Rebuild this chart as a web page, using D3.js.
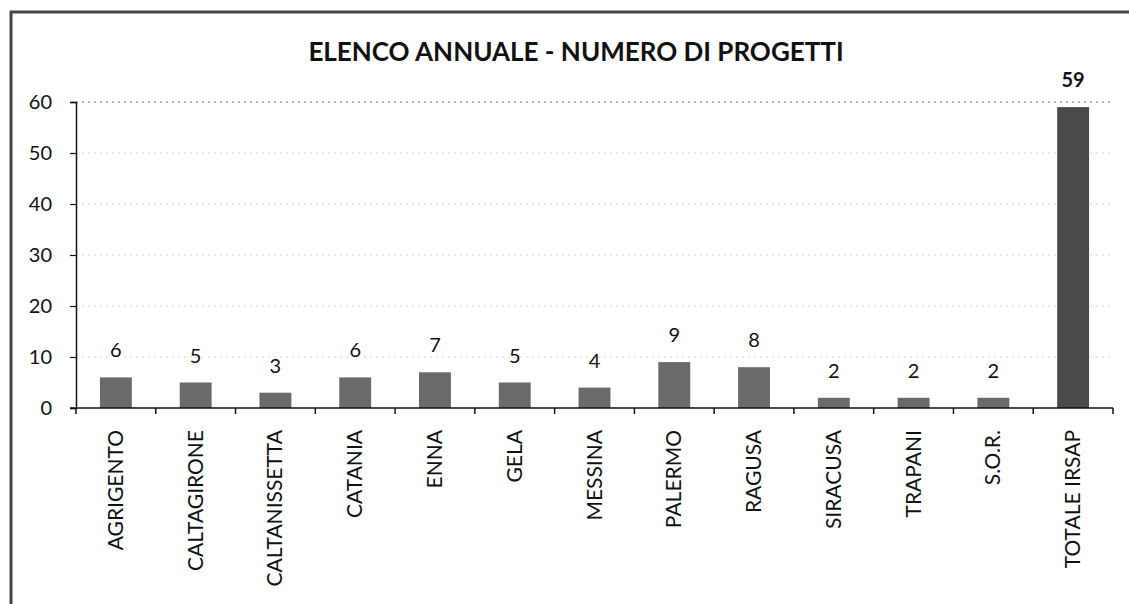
<!DOCTYPE html>
<html><head><meta charset="utf-8">
<script src="https://cdn.jsdelivr.net/npm/d3@7"></script>
<style>body{margin:0;background:#fff}svg{display:block}</style>
</head><body>
<svg id="c" width="1129" height="604"></svg>
<script>
const categories = ["AGRIGENTO","CALTAGIRONE","CALTANISSETTA","CATANIA","ENNA","GELA","MESSINA","PALERMO","RAGUSA","SIRACUSA","TRAPANI","S.O.R.","TOTALE IRSAP"];
const values = [6,5,3,6,7,5,4,9,8,2,2,2,59];
const yTicks = [0,10,20,30,40,50,60];
const title = "ELENCO ANNUALE - NUMERO DI PROGETTI";

const svg = d3.select("#c");
const font = "Lato, 'Open Sans', sans-serif";
const pL = 76, pR = 1113, pT = 102, pB = 408;

// border (top & left)
svg.append("line").attr("x1",10).attr("x2",1129).attr("y1",12).attr("y2",12).attr("stroke","#444").attr("stroke-width",3);
svg.append("line").attr("x1",11).attr("x2",11).attr("y1",11).attr("y2",604).attr("stroke","#444").attr("stroke-width",3);

const x = d3.scaleBand().domain(categories).range([pL,pR]).paddingInner(0.6).paddingOuter(0.3);
const y = d3.scaleLinear().domain([0,60]).range([pB,pT]);

// gridlines
svg.append("g").selectAll("line").data(yTicks.filter(d=>d>0)).join("line")
  .attr("x1",pL).attr("x2",pR).attr("y1",d=>y(d)).attr("y2",d=>y(d))
  .attr("stroke",d=>d===60?"#777":"#d4d4d4").attr("stroke-width",1)
  .attr("stroke-dasharray","2,4");

// title
svg.append("text").attr("x",576).attr("y",61).attr("text-anchor","middle")
  .attr("font-family",font).attr("font-weight","bold").attr("font-size",26).attr("fill","#111").text(title);

// bars
svg.append("g").selectAll("rect").data(values).join("rect")
  .attr("x",(d,i)=>x(categories[i])).attr("width",x.bandwidth())
  .attr("y",d=>y(d)).attr("height",d=>y(0)-y(d))
  .attr("fill",(d,i)=>i===categories.length-1?"#4a4a4a":"#6a6a6a");

// data labels
svg.append("g").selectAll("text").data(values).join("text")
  .attr("x",(d,i)=>x(categories[i])+x.bandwidth()/2).attr("y",d=>y(d)-20)
  .attr("text-anchor","middle").attr("font-family",font).attr("font-size",20)
  .attr("font-weight",(d,i)=>i===categories.length-1?"bold":"normal").attr("fill","#111")
  .text(d=>d);

// y axis
const ya = svg.append("g").attr("transform",`translate(${pL},0)`)
  .call(d3.axisLeft(y).tickValues(yTicks).tickSize(6).tickPadding(18));
ya.select(".domain").attr("stroke","#111").attr("stroke-width",1.5);
ya.selectAll(".tick line").attr("stroke","#111").attr("stroke-width",1.2);
ya.selectAll("text").attr("font-family",font).attr("font-size",20).attr("fill","#111");

// x axis
const xb = d3.scaleLinear().domain([0,categories.length]).range([pL,pR]);
const xg = svg.append("g");
xg.append("line").attr("x1",pL-6).attr("x2",pR).attr("y1",pB).attr("y2",pB).attr("stroke","#111").attr("stroke-width",1.5);
xg.selectAll("line.t").data(d3.range(categories.length+1)).join("line").attr("class","t")
  .attr("x1",d=>xb(d)).attr("x2",d=>xb(d)).attr("y1",pB).attr("y2",pB+6)
  .attr("stroke","#111").attr("stroke-width",1.5);
xg.selectAll("text").data(categories).join("text")
  .attr("transform",d=>`translate(${x(d)+x.bandwidth()/2+7},${pB+22}) rotate(-90)`)
  .attr("text-anchor","end").attr("font-family",font).attr("font-size",21).attr("fill","#111")
  .text(d=>d);
</script>
</body></html>
